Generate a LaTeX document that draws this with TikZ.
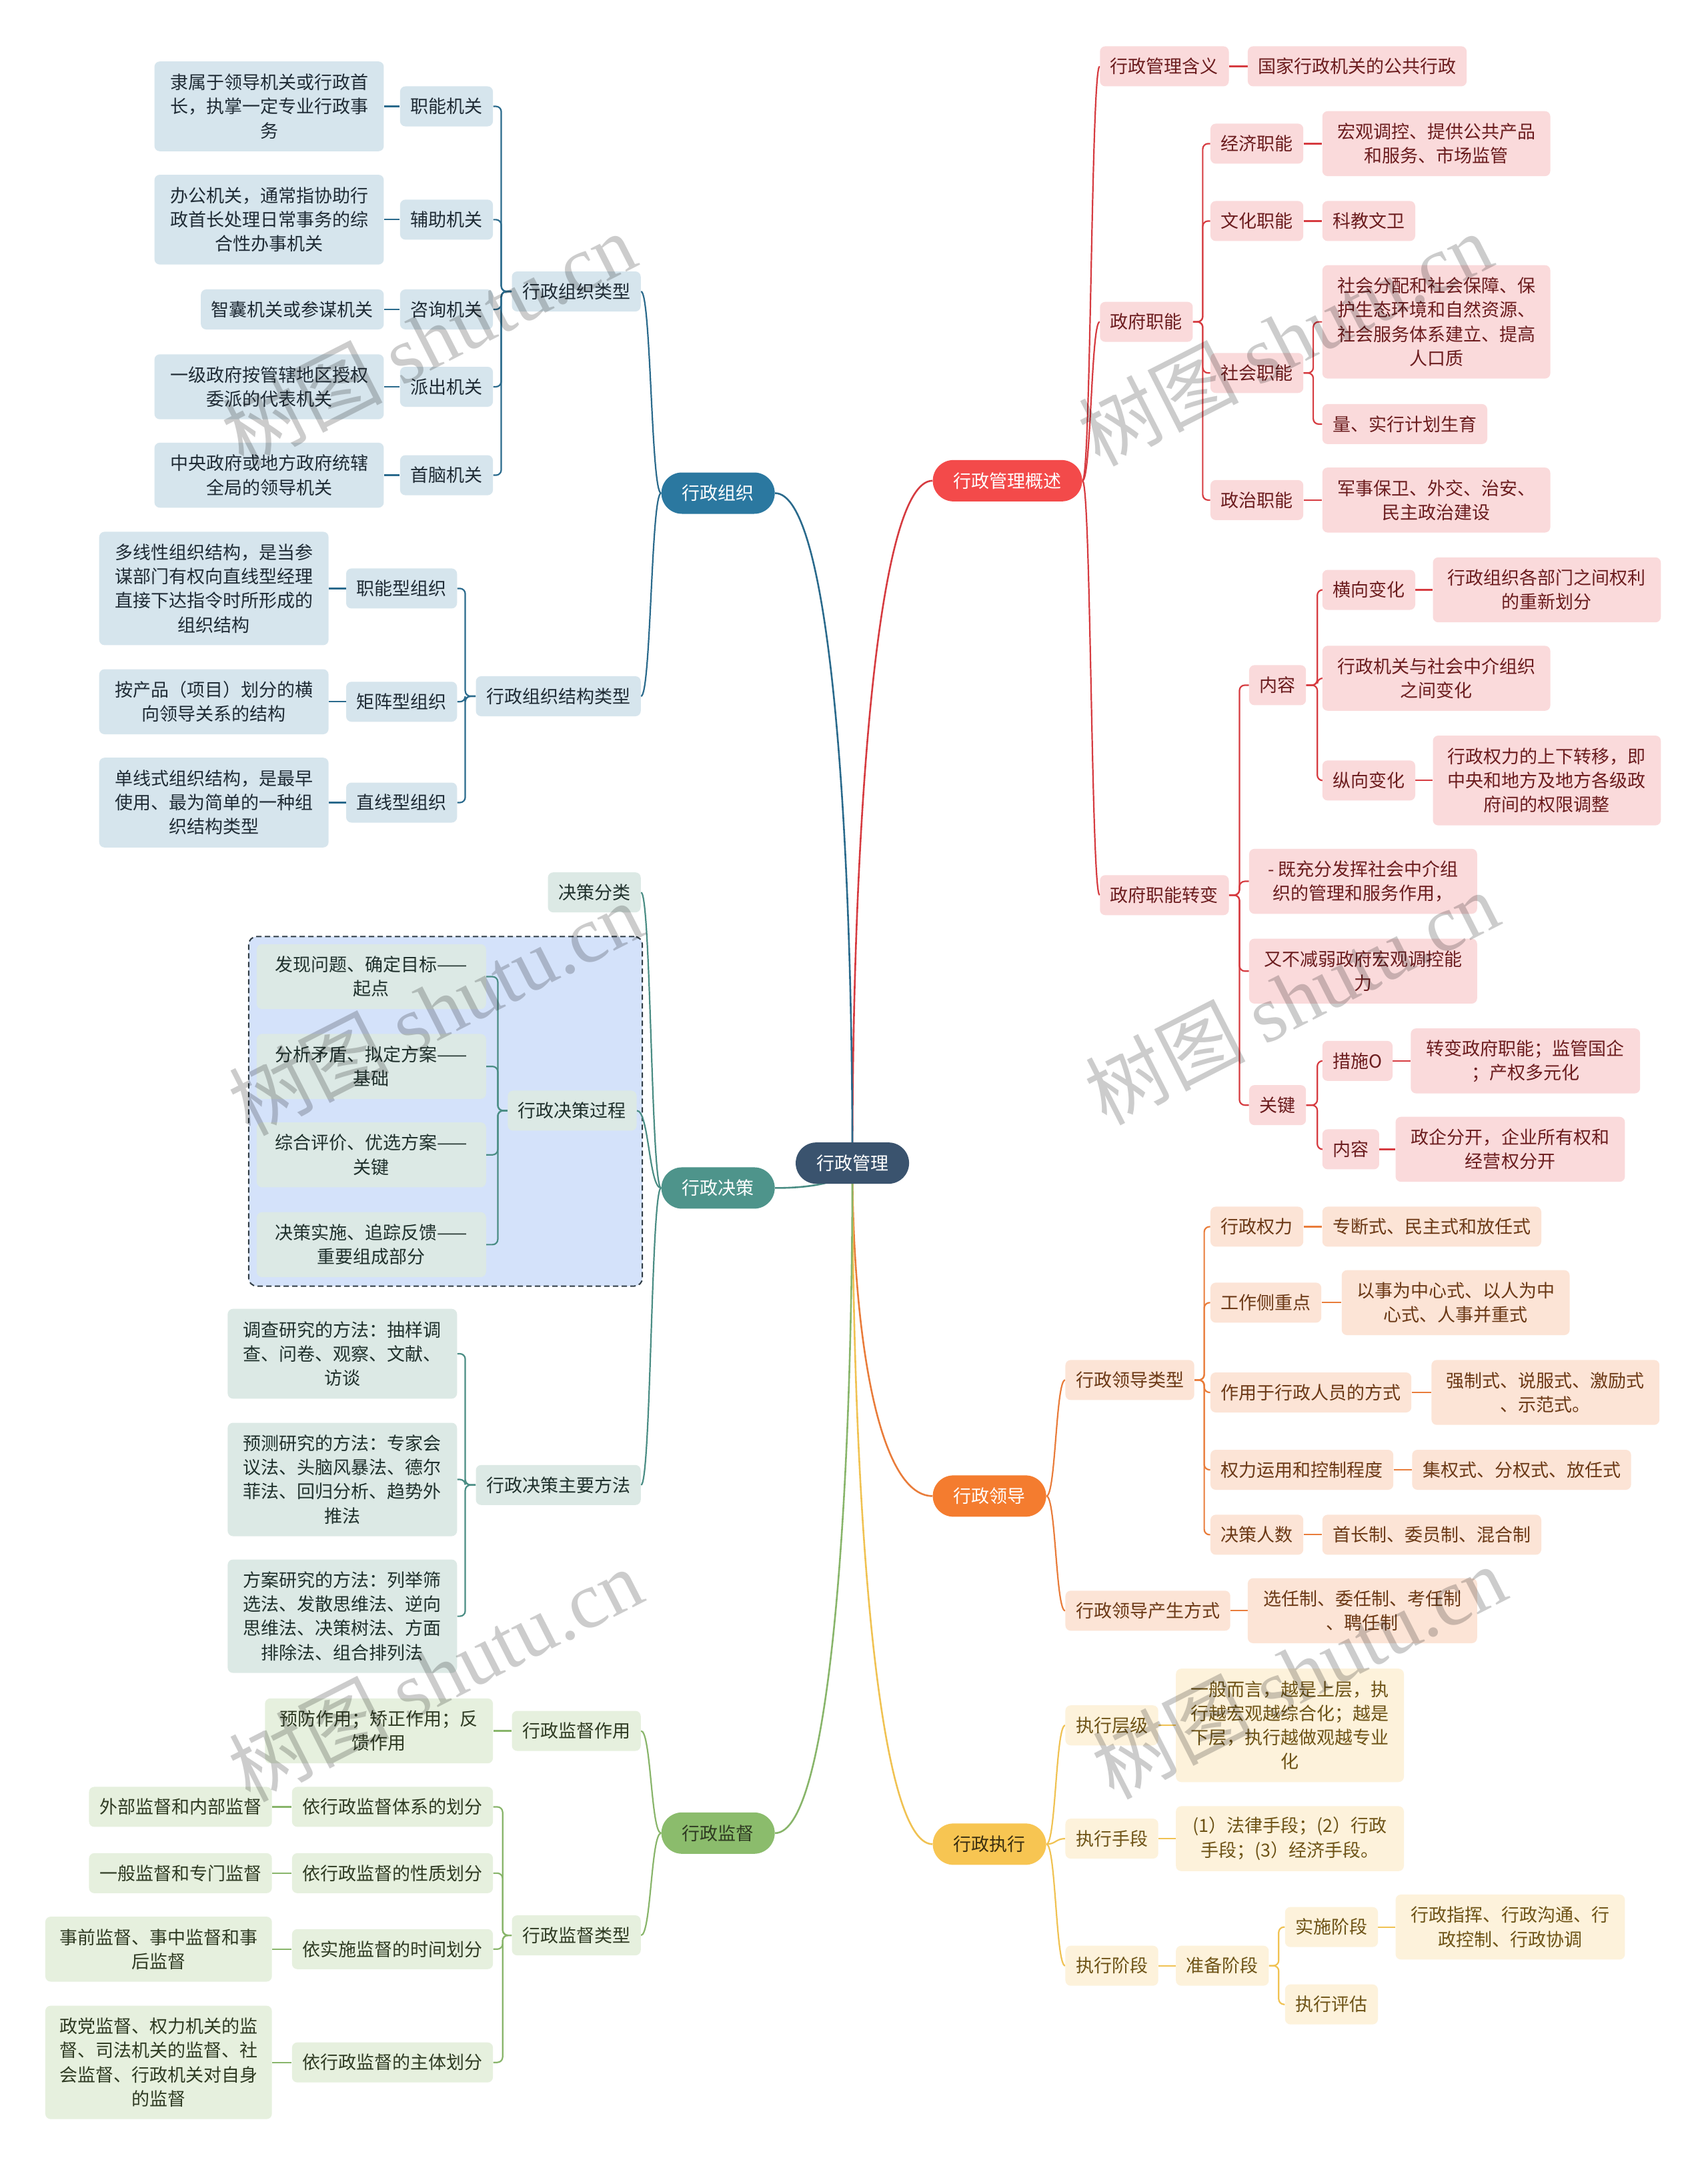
\documentclass[tikz,border=0pt]{standalone}
\usepackage{fontspec}
\setmainfont{Noto Sans CJK SC}
\newfontfamily\wmlat{Liberation Serif}
\usetikzlibrary{calc}
\pgfdeclarelayer{bgA}
\pgfdeclarelayer{bgB}
\pgfdeclarelayer{wm}
\pgfsetlayers{bgA,bgB,main,wm}
\definecolor{cP}{HTML}{3A536E}
\definecolor{bP}{HTML}{2B78A0}
\definecolor{bN}{HTML}{D6E5ED}
\definecolor{bT}{HTML}{1F2B35}
\definecolor{bL}{HTML}{2A6A8C}
\definecolor{tP}{HTML}{4E948B}
\definecolor{tN}{HTML}{DCE9E5}
\definecolor{tT}{HTML}{1F302C}
\definecolor{tL}{HTML}{4A8D84}
\definecolor{boxF}{HTML}{D4E2FA}
\definecolor{boxD}{HTML}{2F3B44}
\definecolor{gP}{HTML}{8BBC6C}
\definecolor{gN}{HTML}{E6F0DE}
\definecolor{gT}{HTML}{2E3A22}
\definecolor{gL}{HTML}{88B56A}
\definecolor{rP}{HTML}{F34A4A}
\definecolor{rN}{HTML}{FADADB}
\definecolor{rT}{HTML}{6B1C1E}
\definecolor{rL}{HTML}{D63B40}
\definecolor{oP}{HTML}{F47C2F}
\definecolor{oN}{HTML}{FCE4D6}
\definecolor{oT}{HTML}{6B3815}
\definecolor{oL}{HTML}{E97C3A}
\definecolor{yP}{HTML}{F7C552}
\definecolor{yN}{HTML}{FDF2DB}
\definecolor{yT}{HTML}{6E5316}
\definecolor{yL}{HTML}{F0C252}
\definecolor{yPT}{HTML}{3A2E10}

\tikzset{
  txt/.style={font=\fontsize{13.5pt}{18.1pt}\selectfont},
  base/.style={txt, inner xsep=7.8pt, inner ysep=0pt, rounded corners=4pt, align=center, minimum height=30pt},
  l2/.style={minimum height=48.7pt},
  l3/.style={minimum height=67.3pt},
  l4/.style={minimum height=85pt},
  bw/.style={minimum width=#1*1.0356pt},
  pill/.style={txt, inner xsep=15.5pt, inner ysep=0pt, minimum height=31pt, rounded corners=15.5pt},
  atR/.style={anchor=west},
  atL/.style={anchor=east},
  bn/.style={base, fill=bN, text=bT},
  tn/.style={base, fill=tN, text=tT},
  gn/.style={base, fill=gN, text=gT},
  rn/.style={base, fill=rN, text=rT},
  orn/.style={base, fill=oN, text=oT},
  yn/.style={base, fill=yN, text=yT},
  conn/.style={line width=1.1pt, rounded corners=4pt},
  mainc/.style={line width=1.3pt},
  cb/.style={conn, draw=bL}, ct/.style={conn, draw=tL}, cg/.style={conn, draw=gL},
  cr/.style={conn, draw=rL}, co/.style={conn, draw=oL}, cy/.style={conn, draw=yL},
  curv/.style={to path={.. controls ($(\tikztostart)!0.5!(\tikztostart-|\tikztotarget)$) and ($(\tikztotarget)!0.5!(\tikztotarget-|\tikztostart)$) .. (\tikztotarget)}},
  wmk/.style={font=\fontsize{60pt}{60pt}\selectfont, text=black, text opacity=0.2, rotate=27, inner sep=0pt}
}

\begin{document}
\begin{tikzpicture}[x=1.0356pt, y=-1.0356pt]
\useasboundingbox (0,0) rectangle (1236,1568);
\begin{pgfonlayer}{bgA}
\fill[white] (0,0) rectangle (1236,1568);
\node[draw=boxD, fill=boxF, dash pattern=on 4pt off 2.5pt, line width=1pt, rounded corners=6pt, inner sep=0pt, minimum width=285*1.0356pt, minimum height=253*1.0356pt] (grp) at (322.5,804.5) {};
\end{pgfonlayer}

% central
\node[pill, fill=cP, text=white] (c) at (617,842) {行政管理};

% level 1
\node[pill, fill=rP, text=white, atR] (gs) at (675,348) {行政管理概述};
\node[pill, fill=oP, text=white, atR] (ld) at (675,1083) {行政领导};
\node[pill, fill=yP, text=yPT, atR] (zx) at (675,1335) {行政执行};
\node[pill, fill=bP, text=white, atL] (zz) at (561,357) {行政组织};
\node[pill, fill=tP, text=white, atL] (jc) at (561,860) {行政决策};
\node[pill, fill=gP, text=gT, atL] (jd) at (561,1327) {行政监督};

% red branch
\node[rn, atR] (hy) at (796,48) {行政管理含义};
\node[rn, atR] (hyl) at (903,48) {国家行政机关的公共行政};
\node[rn, atR] (zf) at (796,233) {政府职能};
\node[rn, atR] (jj) at (876,104) {经济职能};
\node[rn, atR, bw=165, l2] (jjl) at (957,104) {宏观调控、提供公共产品\\和服务、市场监管};
\node[rn, atR] (wh) at (876,160) {文化职能};
\node[rn, atR] (whl) at (957,160) {科教文卫};
\node[rn, atR] (sh) at (876,270) {社会职能};
\node[rn, atR, bw=165, l4] (shl) at (957,233) {社会分配和社会保障、保\\护生态环境和自然资源、\\社会服务体系建立、提高\\人口质};
\node[rn, atR] (shm) at (957,307) {量、实行计划生育};
\node[rn, atR] (zzn) at (876,362) {政治职能};
\node[rn, atR, bw=165, l2] (zznl) at (957,362) {军事保卫、外交、治安、\\民主政治建设};
\node[rn, atR] (zb) at (796,648) {政府职能转变};
\node[rn, atR] (nr) at (904,496) {内容};
\node[rn, atR] (hx) at (957,427) {横向变化};
\node[rn, atR, bw=165, l2] (hxl) at (1037,427) {行政组织各部门之间权利\\的重新划分};
\node[rn, atR, bw=165, l2] (zj) at (957,491) {行政机关与社会中介组织\\之间变化};
\node[rn, atR] (zxh) at (957,565) {纵向变化};
\node[rn, atR, bw=165, l3] (zxhl) at (1037,565) {行政权力的上下转移，即\\中央和地方及地方各级政\\府间的权限调整};
\node[rn, atR, bw=165, l2] (jcf) at (904,638) {- 既充分发挥社会中介组\\织的管理和服务作用，};
\node[rn, atR, bw=165, l2] (ybj) at (904,703) {又不减弱政府宏观调控能\\力};
\node[rn, atR] (gj) at (904,800) {关键};
\node[rn, atR] (cs) at (957,768) {措施O};
\node[rn, atR, bw=166, l2] (csl) at (1021,768) {转变政府职能；监管国企\\；产权多元化};
\node[rn, atR] (nr2) at (957,832) {内容};
\node[rn, atR, bw=166, l2] (nr2l) at (1010,832) {政企分开，企业所有权和\\经营权分开};

% orange branch
\node[orn, atR] (ldlx) at (771,999) {行政领导类型};
\node[orn, atR] (xq) at (876,888) {行政权力};
\node[orn, atR] (xql) at (957,888) {专断式、民主式和放任式};
\node[orn, atR] (gz) at (876,943) {工作侧重点};
\node[orn, atR, bw=165, l2] (gzl) at (971,943) {以事为中心式、以人为中\\心式、人事并重式};
\node[orn, atR] (zy) at (876,1008) {作用于行政人员的方式};
\node[orn, atR, bw=165, l2] (zyl) at (1036,1008) {强制式、说服式、激励式\\、示范式。};
\node[orn, atR] (ql) at (876,1064) {权力运用和控制程度};
\node[orn, atR] (qll) at (1022,1064) {集权式、分权式、放任式};
\node[orn, atR] (rs) at (876,1111) {决策人数};
\node[orn, atR] (rsl) at (957,1111) {首长制、委员制、混合制};
\node[orn, atR] (cf) at (771,1166) {行政领导产生方式};
\node[orn, atR, bw=166, l2] (cfl) at (903,1166) {选任制、委任制、考任制\\、聘任制};

% yellow branch
\node[yn, atR] (cj) at (771,1249) {执行层级};
\node[yn, atR, bw=165, l4] (cjl) at (851,1249) {一般而言，越是上层，执\\行越宏观越综合化；越是\\下层，执行越做观越专业\\化};
\node[yn, atR] (sd) at (771,1331) {执行手段};
\node[yn, atR, bw=165, l2] (sdl) at (851,1331) {(1）法律手段；(2）行政\\手段；(3）经济手段。};
\node[yn, atR] (jdd) at (771,1423) {执行阶段};
\node[yn, atR] (zb2) at (851,1423) {准备阶段};
\node[yn, atR] (ss) at (930,1395) {实施阶段};
\node[yn, atR, bw=166, l2] (ssl) at (1010,1395) {行政指挥、行政沟通、行\\政控制、行政协调};
\node[yn, atR] (pg) at (930,1451) {执行评估};

% blue branch
\node[bn, atL] (lx) at (464,211) {行政组织类型};
\node[bn, atL] (zn) at (357,77) {职能机关};
\node[bn, atL, bw=166, l3] (znl) at (278,77) {隶属于领导机关或行政首\\长，执掌一定专业行政事\\务};
\node[bn, atL] (fz) at (357,159) {辅助机关};
\node[bn, atL, bw=166, l3] (fzl) at (278,159) {办公机关，通常指协助行\\政首长处理日常事务的综\\合性办事机关};
\node[bn, atL] (zx2) at (357,224) {咨询机关};
\node[bn, atL] (zx2l) at (278,224) {智囊机关或参谋机关};
\node[bn, atL] (pc) at (357,280) {派出机关};
\node[bn, atL, bw=166, l2] (pcl) at (278,280) {一级政府按管辖地区授权\\委派的代表机关};
\node[bn, atL] (sn) at (357,344) {首脑机关};
\node[bn, atL, bw=166, l2] (snl) at (278,344) {中央政府或地方政府统辖\\全局的领导机关};
\node[bn, atL] (jg) at (464,504) {行政组织结构类型};
\node[bn, atL] (znx) at (331,426) {职能型组织};
\node[bn, atL, bw=166, l4] (znxl) at (238,426) {多线性组织结构，是当参\\谋部门有权向直线型经理\\直接下达指令时所形成的\\组织结构};
\node[bn, atL] (jz) at (331,508) {矩阵型组织};
\node[bn, atL, bw=166, l2] (jzl) at (238,508) {按产品（项目）划分的横\\向领导关系的结构};
\node[bn, atL] (zxx) at (331,581) {直线型组织};
\node[bn, atL, bw=166, l3] (zxxl) at (238,581) {单线式组织结构，是最早\\使用、最为简单的一种组\\织结构类型};

% teal branch
\node[tn, atL] (fl) at (464,646) {决策分类};
\node[tn, atL] (gc) at (461,804) {行政决策过程};
\node[tn, atL, bw=166, l2] (p1) at (352,707) {发现问题、确定目标——\\起点};
\node[tn, atL, bw=166, l2] (p2) at (352,772) {分析矛盾、拟定方案——\\基础};
\node[tn, atL, bw=166, l2] (p3) at (352,836) {综合评价、优选方案——\\关键};
\node[tn, atL, bw=166, l2] (p4) at (352,901) {决策实施、追踪反馈——\\重要组成部分};
\node[tn, atL] (ff) at (464,1075) {行政决策主要方法};
\node[tn, atL, bw=166, l3] (m1) at (331,980) {调查研究的方法：抽样调\\查、问卷、观察、文献、\\访谈};
\node[tn, atL, bw=166, l4] (m2) at (331,1071) {预测研究的方法：专家会\\议法、头脑风暴法、德尔\\菲法、回归分析、趋势外\\推法};
\node[tn, atL, bw=166, l4] (m3) at (331,1170) {方案研究的方法：列举筛\\选法、发散思维法、逆向\\思维法、决策树法、方面\\排除法、组合排列法};

% green branch
\node[gn, atL] (zy2) at (464,1253) {行政监督作用};
\node[gn, atL, bw=165, l2] (zy2l) at (357,1253) {预防作用；矫正作用；反\\馈作用};
\node[gn, atL] (jl) at (464,1401) {行政监督类型};
\node[gn, atL] (tx) at (357,1308) {依行政监督体系的划分};
\node[gn, atL] (txl) at (197,1308) {外部监督和内部监督};
\node[gn, atL] (xz) at (357,1356) {依行政监督的性质划分};
\node[gn, atL] (xzl) at (197,1356) {一般监督和专门监督};
\node[gn, atL] (sj) at (357,1411) {依实施监督的时间划分};
\node[gn, atL, bw=164, l2] (sjl) at (197,1411) {事前监督、事中监督和事\\后监督};
\node[gn, atL] (zt) at (357,1493) {依行政监督的主体划分};
\node[gn, atL, bw=164, l4] (ztl) at (197,1493) {政党监督、权力机关的监\\督、司法机关的监督、社\\会监督、行政机关对自身\\的监督};

% connectors
\begin{pgfonlayer}{bgB}
\draw[mainc, draw=rL] (gs.west) .. controls +(-40,0) and (617,595) .. (c.center);
\draw[mainc, draw=oL] (ld.west) .. controls +(-40,0) and (617,962) .. (c.center);
\draw[mainc, draw=yL] (zx.west) .. controls +(-40,0) and (617,1088) .. (c.center);
\draw[mainc, draw=bL] (zz.east) .. controls +(40,0) and (617,600) .. (c.center);
\draw[mainc, draw=tL] (jc.east) .. controls +(40,0) and (617,851) .. (c.center);
\draw[mainc, draw=gL] (jd.east) .. controls +(40,0) and (617,1084) .. (c.center);

% red
\draw[cr] (gs.east) to[curv] (hy.west);
\draw[cr] (gs.east) to[curv] (zf.west);
\draw[cr] (gs.east) to[curv] (zb.west);
\draw[cr] (hy.east) -- (hyl.west);
\draw[cr] (zf.east) -- ++(7,0) |- (jj.west);
\draw[cr] (zf.east) -- ++(7,0) |- (wh.west);
\draw[cr] (zf.east) -- ++(7,0) |- (sh.west);
\draw[cr] (zf.east) -- ++(7,0) |- (zzn.west);
\draw[cr] (jj.east) -- (jjl.west);
\draw[cr] (wh.east) -- (whl.west);
\draw[cr] (sh.east) -- ++(7,0) |- (shl.west);
\draw[cr] (sh.east) -- ++(7,0) |- (shm.west);
\draw[cr] (zzn.east) -- (zznl.west);
\draw[cr] (zb.east) -- ++(7.5,0) |- (nr.west);
\draw[cr] (zb.east) -- ++(7.5,0) |- (jcf.west);
\draw[cr] (zb.east) -- ++(7.5,0) |- (ybj.west);
\draw[cr] (zb.east) -- ++(7.5,0) |- (gj.west);
\draw[cr] (nr.east) -- ++(8,0) |- (hx.west);
\draw[cr] (nr.east) -- ++(8,0) |- (zj.west);
\draw[cr] (nr.east) -- ++(8,0) |- (zxh.west);
\draw[cr] (hx.east) -- (hxl.west);
\draw[cr] (zxh.east) -- (zxhl.west);
\draw[cr] (gj.east) -- ++(8,0) |- (cs.west);
\draw[cr] (gj.east) -- ++(8,0) |- (nr2.west);
\draw[cr] (cs.east) -- (csl.west);
\draw[cr] (nr2.east) -- (nr2l.west);

% orange
\draw[co] (ld.east) to[curv] (ldlx.west);
\draw[co] (ld.east) to[curv] (cf.west);
\draw[co] (ldlx.east) -- ++(7,0) |- (xq.west);
\draw[co] (ldlx.east) -- ++(7,0) |- (gz.west);
\draw[co] (ldlx.east) -- ++(7,0) |- (zy.west);
\draw[co] (ldlx.east) -- ++(7,0) |- (ql.west);
\draw[co] (ldlx.east) -- ++(7,0) |- (rs.west);
\draw[co] (xq.east) -- (xql.west);
\draw[co] (gz.east) -- (gzl.west);
\draw[co] (zy.east) -- (zyl.west);
\draw[co] (ql.east) -- (qll.west);
\draw[co] (rs.east) -- (rsl.west);
\draw[co] (cf.east) -- (cfl.west);

% yellow
\draw[cy] (zx.east) to[curv] (cj.west);
\draw[cy] (zx.east) to[curv] (sd.west);
\draw[cy] (zx.east) to[curv] (jdd.west);
\draw[cy] (cj.east) -- (cjl.west);
\draw[cy] (sd.east) -- (sdl.west);
\draw[cy] (jdd.east) -- (zb2.west);
\draw[cy] (zb2.east) -- ++(7,0) |- (ss.west);
\draw[cy] (zb2.east) -- ++(7,0) |- (pg.west);
\draw[cy] (ss.east) -- (ssl.west);

% blue
\draw[cb] (zz.west) to[curv] (lx.east);
\draw[cb] (zz.west) to[curv] (jg.east);
\draw[cb] (lx.west) -- ++(-7.5,0) |- (zn.east);
\draw[cb] (lx.west) -- ++(-7.5,0) |- (fz.east);
\draw[cb] (lx.west) -- ++(-7.5,0) |- (zx2.east);
\draw[cb] (lx.west) -- ++(-7.5,0) |- (pc.east);
\draw[cb] (lx.west) -- ++(-7.5,0) |- (sn.east);
\draw[cb] (zn.west) -- (znl.east);
\draw[cb] (fz.west) -- (fzl.east);
\draw[cb] (zx2.west) -- (zx2l.east);
\draw[cb] (pc.west) -- (pcl.east);
\draw[cb] (sn.west) -- (snl.east);
\draw[cb] (jg.west) -- ++(-7.5,0) |- (znx.east);
\draw[cb] (jg.west) -- ++(-7.5,0) |- (jz.east);
\draw[cb] (jg.west) -- ++(-7.5,0) |- (zxx.east);
\draw[cb] (znx.west) -- (znxl.east);
\draw[cb] (jz.west) -- (jzl.east);
\draw[cb] (zxx.west) -- (zxxl.east);

% teal
\draw[ct] (jc.west) to[curv] (fl.east);
\draw[ct] (jc.west) to[curv] (gc.east);
\draw[ct] (jc.west) to[curv] (ff.east);
\draw[ct] (gc.west) -- ++(-7,0) |- (p1.east);
\draw[ct] (gc.west) -- ++(-7,0) |- (p2.east);
\draw[ct] (gc.west) -- ++(-7,0) |- (p3.east);
\draw[ct] (gc.west) -- ++(-7,0) |- (p4.east);
\draw[ct] (ff.west) -- ++(-7.5,0) |- (m1.east);
\draw[ct] (ff.west) -- ++(-7.5,0) |- (m2.east);
\draw[ct] (ff.west) -- ++(-7.5,0) |- (m3.east);

% green
\draw[cg] (jd.west) to[curv] (zy2.east);
\draw[cg] (jd.west) to[curv] (jl.east);
\draw[cg] (zy2.west) -- (zy2l.east);
\draw[cg] (jl.west) -- ++(-6.5,0) |- (tx.east);
\draw[cg] (jl.west) -- ++(-6.5,0) |- (xz.east);
\draw[cg] (jl.west) -- ++(-6.5,0) |- (sj.east);
\draw[cg] (jl.west) -- ++(-6.5,0) |- (zt.east);
\draw[cg] (tx.west) -- (txl.east);
\draw[cg] (xz.west) -- (xzl.east);
\draw[cg] (sj.west) -- (sjl.east);
\draw[cg] (zt.west) -- (ztl.east);
\end{pgfonlayer}

% watermarks
\begin{pgfonlayer}{wm}
\node[wmk] (w1) at (310,245) {树图 {\wmlat shutu.cn}};
\node[wmk] (w2) at (930,245) {树图 {\wmlat shutu.cn}};
\node[wmk] (w3) at (315,730) {树图 {\wmlat shutu.cn}};
\node[wmk] (w4) at (935,722) {树图 {\wmlat shutu.cn}};
\node[wmk] (w5) at (315,1212) {树图 {\wmlat shutu.cn}};
\node[wmk] (w6) at (940,1210) {树图 {\wmlat shutu.cn}};
\end{pgfonlayer}
\end{tikzpicture}
\end{document}
